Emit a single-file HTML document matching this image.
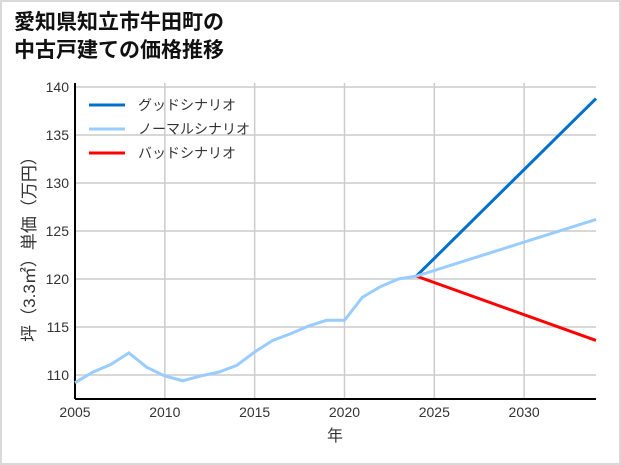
<!DOCTYPE html>
<html><head><meta charset="utf-8">
<style>
html,body{margin:0;padding:0;background:#fff;}
#wrap{width:621px;height:465px;position:relative;box-sizing:border-box;border:2px solid #d9d9d9;background:#fff;}
svg text{font-family:"Liberation Sans","Noto Sans CJK JP",sans-serif;}
</style></head>
<body>
<div id="wrap">
<svg id="chart" width="621" height="465" style="position:absolute;left:-2px;top:-2px">
<text x="14" y="29" font-size="21" font-weight="bold" fill="#111">愛知県知立市牛田町の</text>
<text x="14" y="57" font-size="21" font-weight="bold" fill="#111">中古戸建ての価格推移</text>
</svg>
</div>
<script>
const years=[2005,2006,2007,2008,2009,2010,2011,2012,2013,2014,2015,2016,2017,2018,2019,2020,2021,2022,2023,2024];
const normalHist=[109.2,110.3,111.1,112.3,110.8,109.9,109.4,109.9,110.3,111.0,112.4,113.6,114.3,115.1,115.7,115.7,118.1,119.2,120.0,120.3];
const projYears=[2024,2034];
const goodVals=[120.3,138.8];
const normalVals=[120.3,126.2];
const badVals=[120.3,113.6];
const xTicks=[2005,2010,2015,2020,2025,2030];
const yTicks=[110,115,120,125,130,135,140];
const legendLabels=["グッドシナリオ","ノーマルシナリオ","バッドシナリオ"];
const legendColors=["#0070cc","#99ccff","#ff0000"];

const svg=document.getElementById('chart');
const NS="http://www.w3.org/2000/svg";
const L=75,R=596,T=83,B=399;
const x=v=>L+(v-2005)*(R-L)/(2034-2005);
const y=v=>87+(140-v)*9.6;
function mk(tag,attrs){const e=document.createElementNS(NS,tag);for(const k in attrs)e.setAttribute(k,attrs[k]);svg.appendChild(e);return e;}
xTicks.forEach(t=>{const g=mk('line',{x1:x(t),x2:x(t),y1:T,y2:B,stroke:'#cccccc','stroke-width':1.5});


const tx=mk('text',{x:x(t),y:B+18,'font-size':14,'text-anchor':'middle',fill:'#333'});tx.textContent=t;

});
yTicks.forEach(t=>{const g=mk('line',{x1:L,x2:R,y1:y(t),y2:y(t),stroke:'#cccccc','stroke-width':1.5});


const tx=mk('text',{x:L-6,y:y(t)+5,'font-size':14,'text-anchor':'end',fill:'#333'});tx.textContent=t;

});
const ya=mk('line',{x1:L,x2:L,y1:T,y2:B,stroke:'#000','stroke-width':2});


const xa=mk('line',{x1:L,x2:R,y1:B,y2:B,stroke:'#000','stroke-width':2});


function line(xs,vs,c,name){const p=mk('polyline',{points:xs.map((v,i)=>x(v)+','+y(vs[i])).join(' '),fill:'none',stroke:c,'stroke-width':3});

}
line(projYears,goodVals,legendColors[0],'good-scenario-line');
line(projYears,badVals,legendColors[2],'bad-scenario-line');
line(projYears,normalVals,legendColors[1],'normal-scenario-line');
line(years,normalHist,legendColors[1],'historical-price-line');
legendLabels.forEach((s,i)=>{const yy=105+i*24;
const l=mk('line',{x1:89,x2:125,y1:yy,y2:yy,stroke:legendColors[i],'stroke-width':3});


const t=mk('text',{x:138,y:yy+5,'font-size':14,fill:'#333'});t.textContent=s;

});
const xt=mk('text',{x:335,y:441,'font-size':16,'text-anchor':'middle',fill:'#333'});xt.textContent='年';


const yt=mk('text',{x:0,y:0,'font-size':17,'text-anchor':'middle',fill:'#333',transform:'translate(35,245) rotate(-90)'});yt.textContent='坪（3.3㎡）単価（万円）';


</script>
</body></html>
